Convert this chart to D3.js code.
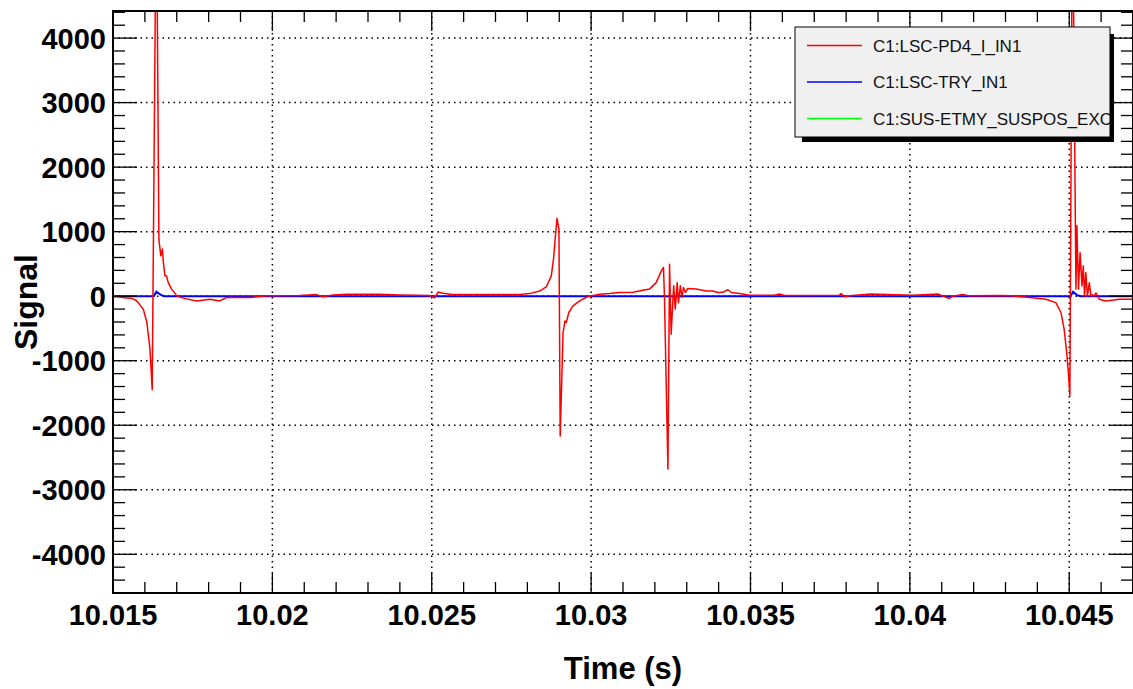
<!DOCTYPE html>
<html>
<head>
<meta charset="utf-8">
<script src="https://cdn.jsdelivr.net/npm/d3@7"></script>
<style>
  body { margin: 0; background: #fff; }
  svg { display: block; font-family: "Liberation Sans", Arial, sans-serif; }
</style>
</head>
<body>
<svg id="chart"></svg>
<script>
// series names + colours (legend order)
let seriesNames = ["C1:LSC-PD4_I_IN1", "C1:LSC-TRY_IN1", "C1:SUS-ETMY_SUSPOS_EXC"],
    seriesColors = ["#ff0000", "#0000ff", "#00ff00"];

// C1:LSC-PD4_I_IN1 (red)
let redTime = [
  10.01500, 10.01530, 10.01560, 10.01574, 10.01595, 10.01606, 10.01616, 10.01623, 10.01636, 10.01644,
  10.01650, 10.01655, 10.01658, 10.01663, 10.01668, 10.01673, 10.01684, 10.01700, 10.01720, 10.01762,
  10.01804, 10.01835, 10.01856, 10.01930, 10.01982, 10.02086, 10.02139, 10.02158, 10.02190, 10.02233,
  10.02337, 10.02400, 10.02494, 10.02509, 10.02520, 10.02535, 10.02566, 10.02713, 10.02776, 10.02807,
  10.02839, 10.02860, 10.02875, 10.02882, 10.02888, 10.02893, 10.02899, 10.02903, 10.02912, 10.02918,
  10.02922, 10.02930, 10.02943, 10.02964, 10.02990, 10.03027, 10.03058, 10.03089, 10.03131, 10.03183,
  10.03204, 10.03220, 10.03227, 10.03230, 10.03241, 10.03246, 10.03251, 10.03259, 10.03264, 10.03270,
  10.03274, 10.03280, 10.03285, 10.03290, 10.03296, 10.03303, 10.03330, 10.03361, 10.03382, 10.03398,
  10.03413, 10.03429, 10.03440, 10.03466, 10.03497, 10.03575, 10.03591, 10.03607, 10.03779, 10.03784,
  10.03795, 10.03810, 10.03878, 10.04009, 10.04087, 10.04124, 10.04134, 10.04166, 10.04187, 10.04281,
  10.04322, 10.04375, 10.04427, 10.04458, 10.04474, 10.04484, 10.04492, 10.04498, 10.04502, 10.04510,
  10.04521, 10.04524, 10.04529, 10.04534, 10.04540, 10.04544, 10.04548, 10.04552, 10.04557, 10.04563,
  10.04568, 10.04573, 10.04578, 10.04584, 10.04594, 10.04615, 10.04657, 10.04700
];
let redValue = [
  0, -20, -35, -70, -200, -400, -820, -1450, 6500, 880,
  625, 730, 525, 315, 315, 215, 110, 5, -30, -73,
  -47, -73, -20, -20, 5, 10, 25, -10, 20, 30,
  30, 20, 10, -25, 65, 45, 25, 25, 25, 40,
  80, 150, 315, 575, 935, 1205, 1040, -2165, -563, -383,
  -408, -253, -150, -73, -5, 30, 40, 57, 60, 110,
  210, 390, 445, 0, -2680, 495, -590, 160, -200, 210,
  -100, 160, -20, 135, 57, 120, 110, 80, 80, 57,
  60, 100, 57, 40, 15, 15, 35, 10, 15, 40,
  -10, 5, 35, 15, 35, -35, 0, 25, 5, 10,
  5, -20, -47, -100, -253, -510, -875, -1235, -1545, 6500,
  110, 1090, 110, 675, 160, 470, 0, 365, 0, 210,
  0, 20, 0, 50, -47, -73, -47, -47
];

// C1:LSC-TRY_IN1 (blue)
let blueTime = [10.01500, 10.01628, 10.01636, 10.01650, 10.01662, 10.04504, 10.04512, 10.04525, 10.04536, 10.04700];
let blueValue = [0, 0, 70, 20, 0, 0, 70, 15, 0, 0];

// axis ticks
let xTicks = [10.015, 10.02, 10.025, 10.03, 10.035, 10.04, 10.045],
    xTickLabels = ["10.015", "10.02", "10.025", "10.03", "10.035", "10.04", "10.045"],
    yTicks = [-4000, -3000, -2000, -1000, 0, 1000, 2000, 3000, 4000],
    xDomain = [10.015, 10.047],
    yDomain = [-4600, 4420];

let margin = {top: 11, right: 0, bottom: 96, left: 113},
    width = 1133 - margin.left - margin.right,
    height = 689 - margin.top - margin.bottom;

let svg = d3.select("#chart")
  .attr("width", 1133)
  .attr("height", 689);

let g = svg.append("g")
  .attr("transform", "translate(" + margin.left + "," + margin.top + ")");

let x = d3.scaleLinear().domain(xDomain).range([0, width]),
    y = d3.scaleLinear().domain(yDomain).range([height, 0]);

g.append("defs").append("clipPath").attr("id", "clip")
  .append("rect").attr("width", width).attr("height", height);

// dotted grid
g.selectAll(".vgrid").data(xTicks.slice(1)).enter().append("line")
  .attr("x1", d => x(d)).attr("x2", d => x(d))
  .attr("y1", 0).attr("y2", height)
  .attr("stroke", "#000").attr("stroke-width", 1.5).attr("stroke-dasharray", "1.5,4");
g.selectAll(".hgrid").data(yTicks).enter().append("line")
  .attr("x1", 0).attr("x2", width)
  .attr("y1", d => y(d)).attr("y2", d => y(d))
  .attr("stroke", "#000").attr("stroke-width", 1.5).attr("stroke-dasharray", "1.5,4");

// traces
let line = d3.line()
  .x(d => x(d[0]))
  .y(d => y(d[1]));

let plot = g.append("g").attr("clip-path", "url(#clip)");

plot.append("path")
  .datum(blueTime.map((t, i) => [t, blueValue[i]]))
  .attr("fill", "none").attr("stroke", seriesColors[1]).attr("stroke-width", 2)
  .attr("d", line);

plot.append("path")
  .datum(redTime.map((t, i) => [t, redValue[i]]))
  .attr("fill", "none").attr("stroke", seriesColors[0]).attr("stroke-width", 1.5)
  .attr("stroke-linejoin", "round")
  .attr("d", line);

// ticks on all four sides, pointing inward
let xMinor = d3.range(0, 33).map(i => 10.015 + i * 0.001),
    yMinor = d3.range(-22, 23).map(i => i * 200).filter(v => v >= yDomain[0] && v <= yDomain[1]);

function isMajorX(v) { return xTicks.some(t => Math.abs(t - v) < 1e-7); }
function isMajorY(v) { return v % 1000 === 0; }

let ticks = g.append("g").attr("stroke", "#000").attr("stroke-width", 1.3);
xMinor.forEach(function(v){
  let len = isMajorX(v) ? 20 : 11;
  ticks.append("line").attr("x1", x(v)).attr("x2", x(v)).attr("y1", height).attr("y2", height - len);
  ticks.append("line").attr("x1", x(v)).attr("x2", x(v)).attr("y1", 0).attr("y2", len);
});
yMinor.forEach(function(v){
  let len = isMajorY(v) ? 24 : 12;
  ticks.append("line").attr("x1", 0).attr("x2", len).attr("y1", y(v)).attr("y2", y(v));
  ticks.append("line").attr("x1", width).attr("x2", width - len).attr("y1", y(v)).attr("y2", y(v));
});

// frame
g.append("rect")
  .attr("width", width).attr("height", height)
  .attr("fill", "none").attr("stroke", "#000").attr("stroke-width", 2);

// tick labels
g.selectAll(".xlab").data(xTicks).enter().append("text")
  .attr("x", d => x(d)).attr("y", height + 32)
  .attr("text-anchor", "middle")
  .style("font-size", "29px").style("font-weight", "bold")
  .text((d, i) => xTickLabels[i]);

g.selectAll(".ylab").data(yTicks).enter().append("text")
  .attr("x", -7).attr("y", d => y(d) + 10.5)
  .attr("text-anchor", "end")
  .style("font-size", "29px").style("font-weight", "bold")
  .text(d => d);

// axis titles
svg.append("text")
  .attr("x", margin.left + width / 2).attr("y", 679)
  .attr("text-anchor", "middle")
  .style("font-size", "31px").style("font-weight", "bold")
  .text("Time (s)");

svg.append("text")
  .attr("transform", "translate(37,302) rotate(-90)")
  .attr("text-anchor", "middle")
  .style("font-size", "32px").style("font-weight", "bold")
  .text("Signal");

// legend box with shadow
let lx = 795, ly = 27, lw = 315, lh = 110;
svg.append("rect").attr("x", lx + 7).attr("y", ly + 7).attr("width", lw - 3).attr("height", lh - 2).attr("fill", "#000");
svg.append("clipPath").attr("id", "lclip")
  .append("rect").attr("x", lx).attr("y", ly).attr("width", lw).attr("height", lh);
svg.append("rect").attr("x", lx).attr("y", ly).attr("width", lw).attr("height", lh)
  .attr("fill", "#f0f0f0").attr("stroke", "#000").attr("stroke-width", 1);

let legend = svg.append("g").attr("clip-path", "url(#lclip)");
seriesNames.forEach(function(name, i){
  let ry = 45.5 + i * 36.5;
  legend.append("line")
    .attr("x1", 807).attr("x2", 862).attr("y1", ry).attr("y2", ry)
    .attr("stroke", seriesColors[i]).attr("stroke-width", 1.5);
  legend.append("text")
    .attr("x", 873).attr("y", ry + 6)
    .style("font-size", "17px").style("fill", "#111")
    .text(name);
});
</script>
</body>
</html>
